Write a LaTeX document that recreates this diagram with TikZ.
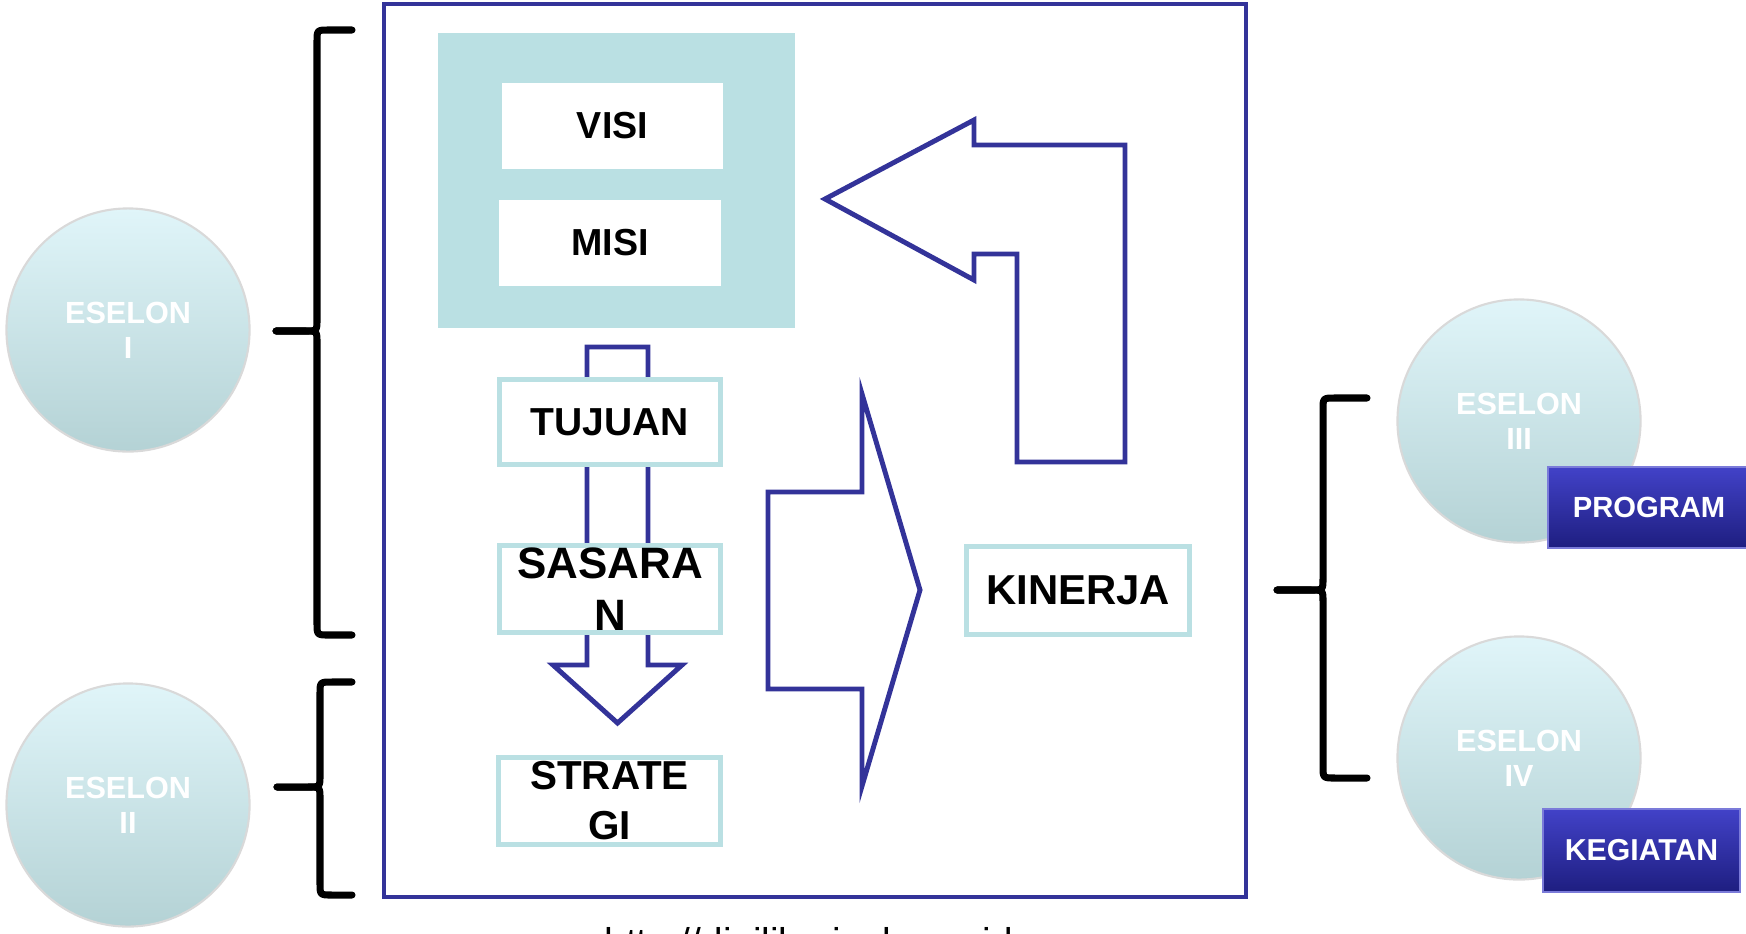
\documentclass[tikz,border=0pt]{standalone}
\usepackage{fontspec}
\setmainfont{Liberation Sans}
\usetikzlibrary{calc}
\definecolor{frameblue}{RGB}{51,51,153}
\definecolor{panelteal}{RGB}{186,224,227}
\definecolor{orbtop}{RGB}{224,245,249}
\definecolor{orbbottom}{RGB}{180,210,213}
\definecolor{tagtop}{RGB}{66,66,200}
\definecolor{tagbottom}{RGB}{30,30,128}

\begin{document}
\begin{tikzpicture}[x=0.01cm,y=-0.01cm,
    bluearrow/.style={draw=frameblue,line width=1.4pt,line join=miter},
    whitebox/.style={fill=white,inner sep=0pt,font=\bfseries\fontsize{10.7}{13}\selectfont},
    tealbox/.style={draw=panelteal,fill=white,line width=1.4pt,inner sep=0pt,align=center,minimum width=2.21cm},
    orb/.style={circle,minimum size=2.43cm,top color=orbtop,bottom color=orbbottom,draw=gray!30,line width=0.6pt,text=white,align=center,font=\bfseries\fontsize{8.7}{10}\selectfont},
    tag/.style={top color=tagtop,bottom color=tagbottom,draw=tagtop!70,inner sep=0pt,text=white,font=\bfseries\fontsize{8.3}{10}\selectfont},
    bracket/.style={line width=2pt,line cap=round,line join=round}]
      \useasboundingbox (0,0) rectangle (1746,933);
      % circles on the left and right
      \node[orb] (eselon1) at (128,330) {ESELON\\I};
      \node[orb] (eselon2) at (128,805) {ESELON\\II};
      \node[orb] (eselon3) at (1519,421) {ESELON\\III};
      \node[orb] (eselon4) at (1519,758) {ESELON\\IV};
      \node[tag,minimum width=2.02cm,minimum height=0.81cm] (program) at (1649,507.5) {PROGRAM};
      \node[tag,minimum width=1.97cm,minimum height=0.83cm,font=\bfseries\fontsize{8.6}{10}\selectfont] (kegiatan) at (1641.5,850.5) {KEGIATAN};
      % braces
      \foreach \xv/\xt/\xe/\ya/\ym/\yb in {317/276/352/30/331/635, 320/277/352/682/787/895, 1323/1277/1367/398/590/778} {
          \draw[bracket] (\xe,\ya) -- ({\xv+12},\ya) .. controls (\xv,\ya) .. (\xv,{\ya+12})
              -- (\xv,{\ym-12}) .. controls (\xv,\ym) .. ({\xv-12},\ym) -- (\xt,\ym);
          \draw[bracket] (\xt,\ym) -- ({\xv-12},\ym) .. controls (\xv,\ym) .. (\xv,{\ym+12})
              -- (\xv,{\yb-12}) .. controls (\xv,\yb) .. ({\xv+12},\yb) -- (\xe,\yb);
      }
      % frame
      \draw[frameblue,line width=1.4pt] (384,4) rectangle (1246,897);
      \node[fill=panelteal,minimum width=3.57cm,minimum height=2.95cm,inner sep=0pt] (panel) at (616.5,180.5) {};
      \node[whitebox,minimum width=2.21cm,minimum height=0.86cm] (visi) at (612.5,126) {VISI};
      \node[whitebox,minimum width=2.22cm,minimum height=0.86cm] (misi) at (610,243) {MISI};
      % block arrows
      \draw[bluearrow] (587,347) -- (648,347) -- (648,665) -- (682,665) -- (617.5,723) -- (553,665) -- (587,665) -- cycle;
      \draw[bluearrow] (768,492) -- (862,492) -- (862,394) -- (920,590) -- (862,786) -- (862,689) -- (768,689) -- cycle;
      \draw[bluearrow] (825,199) -- (974,120) -- (974,145) -- (1125,145) -- (1125,462) -- (1017,462) -- (1017,254) -- (974,254) -- (974,280) -- cycle;
      % steps
      \node[tealbox,minimum height=0.85cm,font=\bfseries\fontsize{11.1}{13}\selectfont] (tujuan) at (610,422) {TUJUAN};
      \node[tealbox,minimum height=0.87cm,font=\bfseries\fontsize{12.5}{14.8}\selectfont] (sasaran) at (610,589) {SASARA\\N};
      \node[tealbox,minimum height=0.87cm,font=\bfseries\fontsize{11.5}{14.2}\selectfont] (strategi) at (609.5,801) {STRATE\\GI};
      \node[tealbox,minimum width=2.23cm,minimum height=0.88cm,font=\bfseries\fontsize{11.9}{14}\selectfont] (kinerja) at (1078,590.5) {KINERJA};
      \node[anchor=north west,inner sep=0pt,font=\fontsize{11}{13}\selectfont] (url) at (604,927) {http://digilib.uinsby.ac.id};
\end{tikzpicture}
\end{document}
